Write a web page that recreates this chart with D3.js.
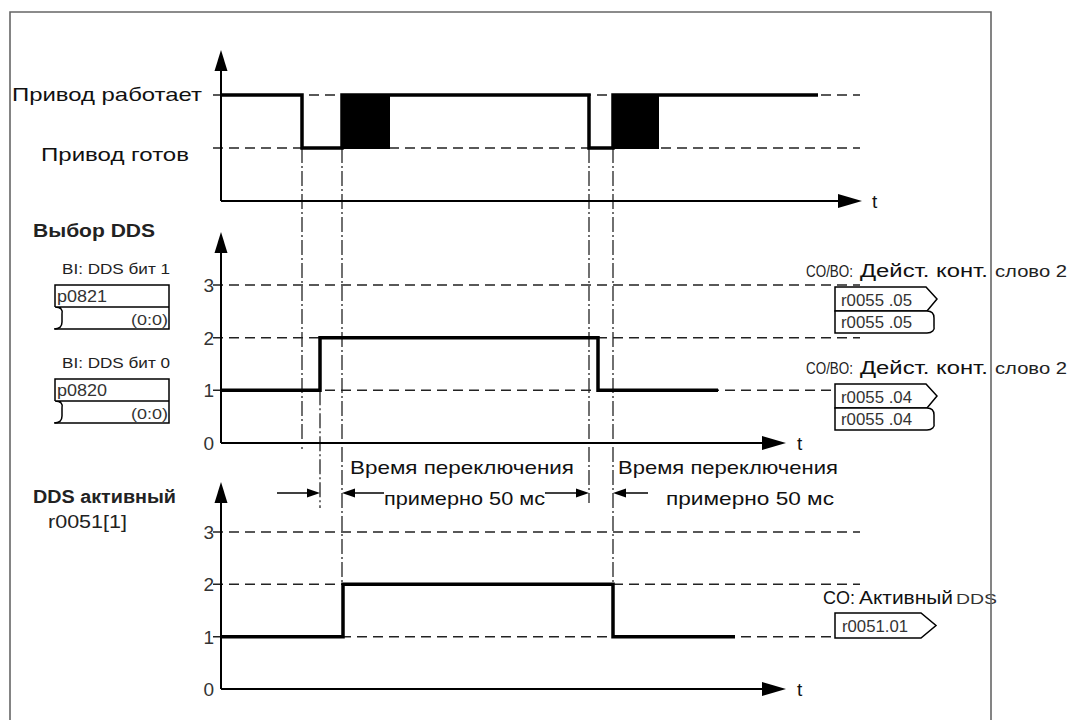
<!DOCTYPE html>
<html><head><meta charset="utf-8">
<script src="https://cdn.jsdelivr.net/npm/d3@7"></script>
<style>body{margin:0;background:#fff}svg{display:block}text{font-family:"Liberation Sans",Arial,sans-serif;fill:#111}</style>
</head><body><svg id="c" width="1074" height="720"></svg>
<script>
// ---------------- data ----------------
const driveStates = ["Привод готов", "Привод работает"];      // levels 1 and 2 of the top panel
const driveSignal = [[0,2],[81,1],[121,2],[368,1],[392,2],[597,2]]; // [time, level] step-after
const driveBlocks = [[121,169],[392,438]];                      // transition periods (filled)
const ddsTicks = ["0","1","2","3"];
const ddsSelect = [[0,1],[99,2],[377,1],[497,1]];               // DDS selection (bits 0/1)
const ddsActive = [[0,1],[122,2],[392,1],[514,1]];              // active DDS r0051[1]
const switchTimes = [81, 99, 121, 368, 392];
const switchText = ["Время переключения", "примерно 50 мс"];
const inputs = [{title:"BI: DDS бит 1", par:"p0821", src:"(0:0)"},
                {title:"BI: DDS бит 0", par:"p0820", src:"(0:0)"}];
const outputs = [{pre:"CO/BO:", title:["Дейст. конт.", "слово 2"], par:"r0055 .05"},
                 {pre:"CO/BO:", title:["Дейст. конт.", "слово 2"], par:"r0055 .04"}];

// ---------------- scales ----------------
const svg = d3.select("#c");
const x = d3.scaleLinear().domain([0,641]).range([221,862]);
const yTop = d3.scaleLinear().domain([0,2]).range([201,95]);
const yMid = d3.scaleLinear().domain([0,3]).range([443,285]);
const yBot = d3.scaleLinear().domain([0,3]).range([689,532]);

function txt(s, px, py, o={}) {
  const t = svg.append("text").attr("x",px).attr("y",py).text(s)
    .style("font-size",(o.size||17)+"px").style("font-weight",o.weight||"normal")
    .attr("text-anchor",o.anchor||"start");
  if (o.width) t.attr("textLength",o.width).attr("lengthAdjust","spacingAndGlyphs");
  if (o.fill) t.style("fill",o.fill);
  return t;
}

// ---------------- panels ----------------
const panels = [
  {y:yTop, levels:[1,2], sig:driveSignal, tip:50, xTip:862, tx:872, ticks:false},
  {y:yMid, levels:[1,2,3], sig:ddsSelect, tip:232, xTip:786, tx:797, ticks:true},
  {y:yBot, levels:[1,2,3], sig:ddsActive, tip:482, xTip:786, tx:797, ticks:true}
];

const markerEnds = {81:[yTop(1),449], 99:[yMid(1),508], 121:[yTop(1),yBot(2)], 368:[yTop(1),503], 392:[yTop(1),yBot(2)]};
switchTimes.forEach(t => {
  svg.append("line").attr("x1",x(t)).attr("x2",x(t))
    .attr("y1",markerEnds[t][0]).attr("y2",markerEnds[t][1])
    .attr("stroke","#111").attr("stroke-width",1.2).attr("stroke-dasharray","15,3,2,3");
});

panels.forEach(p => {
  p.levels.forEach(l => {
    svg.append("line").attr("x1",213).attr("x2",860).attr("y1",p.y(l)).attr("y2",p.y(l))
      .attr("stroke","#222").attr("stroke-width",1.5).attr("stroke-dasharray","10,6");
  });
  svg.append("line").attr("x1",x(0)).attr("x2",x(0)).attr("y1",p.y(0)).attr("y2",p.tip+10)
    .attr("stroke","#000").attr("stroke-width",2);
  svg.append("path").attr("d",`M${x(0)},${p.tip} L${x(0)-6.5},${p.tip+21} L${x(0)+6.5},${p.tip+21} Z`).attr("fill","#000");
  svg.append("line").attr("x1",x(0)).attr("x2",p.xTip-10).attr("y1",p.y(0)).attr("y2",p.y(0))
    .attr("stroke","#000").attr("stroke-width",2);
  svg.append("path").attr("d",`M${p.xTip},${p.y(0)} L${p.xTip-24},${p.y(0)-7} L${p.xTip-24},${p.y(0)+7} Z`).attr("fill","#000");
  txt("t", p.tx, p.y(0)+7, {size:19});
  if (p.ticks) {
    ddsTicks.forEach((s,i) => txt(s, 214, p.y(i)+7, {size:19, anchor:"end", fill:"#333"}));
  }
});

driveBlocks.forEach(b => {
  svg.append("rect").attr("x",x(b[0])).attr("width",x(b[1])-x(b[0]))
    .attr("y",yTop(2)-1).attr("height",yTop(1)-yTop(2)+2).attr("fill","#000");
});

panels.forEach(p => {
  const line = d3.line().x(d=>x(d[0])).y(d=>p.y(d[1])).curve(d3.curveStepAfter);
  svg.append("path").attr("d",line(p.sig)).attr("fill","none").attr("stroke","#000")
    .attr("stroke-width",3.5).attr("stroke-linejoin","miter");
});

// left labels
txt(driveStates[1], 12, 101, {size:19, width:190});
txt(driveStates[0], 41, 161, {size:19, width:148});
txt("Выбор DDS", 33, 237, {size:18, weight:"bold", width:122, fill:"#222"});
txt("DDS активный", 33, 503, {size:18, weight:"bold", width:143, fill:"#222"});
txt("r0051[1]", 48, 528, {size:18, width:79, fill:"#222"});

// input boxes
inputs.forEach((d,i) => {
  const top = i===0 ? 285 : 379, mid = top+22, bot = top+44;
  txt(d.title, 62, top-11, {size:15.5, width:108, fill:"#222"});
  const g = svg.append("g").attr("fill","none").attr("stroke","#000").attr("stroke-width",1.5);
  g.append("path").attr("d",`M55,${mid} V${top} H169 V${bot} H${55}`);
  g.append("path").attr("d",`M169,${mid} H55 C61,${mid} 63,${mid+3} 62,${mid+7} L62,${bot-7} C62,${bot-2} 59,${bot} 54,${bot}`);
  txt(d.par, 57, top+17, {size:16, width:50, fill:"#333"});
  txt(d.src, 168, bot-4, {size:15, width:37, anchor:"end", fill:"#333"});
});

// output boxes
outputs.forEach((d,i) => {
  const ty = i===0 ? 277 : 374, top = ty+10, mid = top+24, bot = top+46;
  txt(d.pre, 806, ty, {size:16, width:47, fill:"#222"});
  txt(d.title[0], 860, ty, {size:18, width:128, fill:"#111"});
  txt(d.title[1], 995, ty, {size:17, width:72, fill:"#222"});
  const g = svg.append("g").attr("fill","#fff").attr("stroke","#000").attr("stroke-width",1.5);
  g.append("path").attr("d",`M835,${mid} V${top} H926 L937,${(top+mid)/2} L927,${mid} Z`);
  g.append("path").attr("d",`M835,${mid} V${bot} H927 C932,${bot} 935,${bot-3} 934,${bot-7} L934,${mid+7} C934,${mid+3} 932,${mid} 927,${mid} H835 Z`);
  txt(d.par, 841, mid-5, {size:16, width:71, fill:"#333"});
  txt(d.par, 841, bot-5, {size:16, width:71, fill:"#333"});
});

// active DDS output
txt("CO:", 823, 604, {size:18, width:32});
txt("Активный", 859, 604, {size:18, width:94});
txt("DDS", 956, 604, {size:15, width:41, fill:"#333"});
svg.append("path").attr("d","M835,613 H921 L936,625.5 L921,638 H835 Z")
  .attr("fill","#fff").attr("stroke","#000").attr("stroke-width",1.5);
txt("r0051.01", 842, 632, {size:16, width:66, fill:"#333"});

// switching time annotation
function arrow(x1, x2, yy) {
  const dir = Math.sign(x2-x1);
  svg.append("line").attr("x1",x1).attr("x2",x2-dir*8).attr("y1",yy).attr("y2",yy)
    .attr("stroke","#000").attr("stroke-width",1.5);
  svg.append("path").attr("d",`M${x2},${yy} L${x2-dir*13},${yy-4.5} L${x2-dir*13},${yy+4.5} Z`).attr("fill","#000");
}
const ay = 493;
arrow(277, x(99), ay);
arrow(384, x(121), ay);
arrow(545, x(368), ay);
arrow(648, x(392), ay);
txt(switchText[0], 350, 474, {size:19, width:224});
txt(switchText[1], 384, 505, {size:19, width:161});
txt(switchText[0], 618, 474, {size:19, width:220});
txt(switchText[1], 666, 505, {size:19, width:168});

// frame
svg.append("path").attr("d","M10,730 V12 H991 V730").attr("fill","none")
  .attr("stroke","#666").attr("stroke-width",1.6);
</script></body></html>
